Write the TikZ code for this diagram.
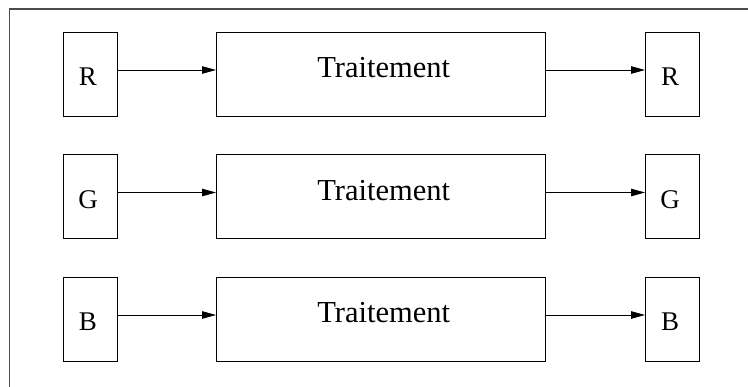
\documentclass[tikz,border=0pt]{standalone}
\usepackage{fontspec}
\setmainfont{Liberation Serif}
\usepackage{tikz}
\usetikzlibrary{arrows.meta, positioning}

\begin{document}
\begin{tikzpicture}[
        x=1pt, y=-1pt,
        chan/.style={rectangle, draw=black, line width=0.9pt, minimum width=54pt, minimum height=84pt, inner sep=0pt, outer sep=0pt},
        proc/.style={rectangle, draw=black, line width=0.9pt, minimum width=329.5pt, minimum height=84pt, inner sep=0pt, outer sep=0pt},
        chanlbl/.style={font=\fontsize{27}{27}\selectfont, inner sep=0pt},
        proclbl/.style={font=\fontsize{30.5}{31}\selectfont, inner sep=0pt},
        arrow/.style={-{Triangle[length=14pt, width=7.5pt]}, line width=0.8pt, black}
    ]
    \useasboundingbox (0,0) rectangle (748,387);
    \clip (0,0) rectangle (748,387);

    % Outer frame (cut off on the right and at the bottom)
    \draw[black!70, line width=1.2pt] (9.5,9) rectangle (800,420);

    % Row 1: red channel
    \node[chan] (rin) at (90,74) {};
    \node[proc, right=99pt of rin] (rproc) {};
    \node[chan, right=99.5pt of rproc] (rout) {};

    % Row 2: green channel
    \node[chan, below=38.5pt of rin] (gin) {};
    \node[proc, below=38.5pt of rproc] (gproc) {};
    \node[chan, below=38.5pt of rout] (gout) {};

    % Row 3: blue channel
    \node[chan, below=38.5pt of gin] (bin) {};
    \node[proc, below=38.5pt of gproc] (bproc) {};
    \node[chan, below=38.5pt of gout] (bout) {};

    % Labels
    \node[chanlbl] (rinl) at ([xshift=-2pt, yshift=-3pt]rin.center) {R};
    \node[proclbl] (rprocl) at ([xshift=3pt, yshift=6pt]rproc.center) {Traitement};
    \node[chanlbl] (routl) at ([xshift=-2pt, yshift=-3pt]rout.center) {R};
    \node[chanlbl] (ginl) at ([xshift=-2pt, yshift=-3pt]gin.center) {G};
    \node[proclbl] (gprocl) at ([xshift=3pt, yshift=6pt]gproc.center) {Traitement};
    \node[chanlbl] (goutl) at ([xshift=-2pt, yshift=-3pt]gout.center) {G};
    \node[chanlbl] (binl) at ([xshift=-2pt, yshift=-3pt]bin.center) {B};
    \node[proclbl] (bprocl) at ([xshift=3pt, yshift=6pt]bproc.center) {Traitement};
    \node[chanlbl] (boutl) at ([xshift=-2pt, yshift=-3pt]bout.center) {B};

    % Arrows into and out of each treatment
    \draw[arrow] ([yshift=4pt]rin.east) -- ([yshift=4pt]rproc.west);
    \draw[arrow] ([yshift=4pt]rproc.east) -- ([yshift=4pt]rout.west);
    \draw[arrow] ([yshift=4pt]gin.east) -- ([yshift=4pt]gproc.west);
    \draw[arrow] ([yshift=4pt]gproc.east) -- ([yshift=4pt]gout.west);
    \draw[arrow] ([yshift=4pt]bin.east) -- ([yshift=4pt]bproc.west);
    \draw[arrow] ([yshift=4pt]bproc.east) -- ([yshift=4pt]bout.west);

\end{tikzpicture}
\end{document}
